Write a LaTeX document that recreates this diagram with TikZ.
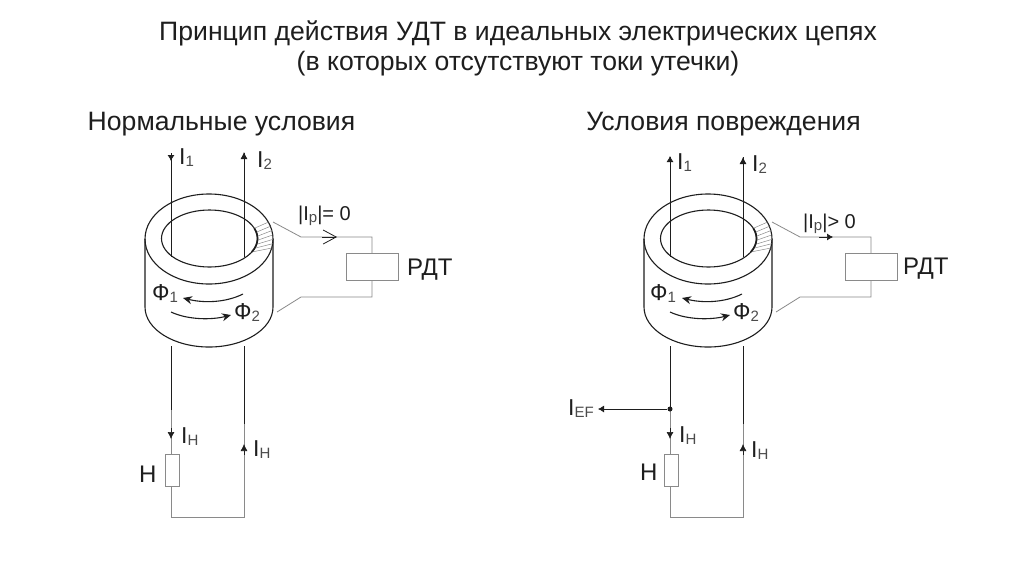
\documentclass[tikz,border=0pt]{standalone}
\usepackage{fontspec}
\setmainfont{Liberation Sans}
\usetikzlibrary{arrows.meta}
\definecolor{ink}{HTML}{1E1E1E}
\definecolor{thin}{HTML}{8A8A8A}
\newcommand{\fs}[1]{\fontsize{#1}{#1}\selectfont}
\newcommand{\sbs}[1]{\raisebox{-2.5pt}{\fs{15}\color{ink!80}#1}}
\newcommand{\wirepanel}[2]{%
  \coordinate (#1c) at (209,239);
  \coordinate (#1w1t) at (171,#2);
  \coordinate (#1w1m) at (171,257);
  \coordinate (#1w2t) at (244,#2);
  \coordinate (#1w2m) at (244,257);
  \draw[body] (145,239) -- (145,307) arc[start angle=180,end angle=0,x radius=64,y radius=40] -- (273,239);
  \draw[body] (#1c) ellipse[x radius=64,y radius=45];
  \draw[body] (209.5,238.5) ellipse[x radius=48,y radius=28.5];
  \foreach \i in {0,...,6} {
    \pgfmathsetmacro{\ti}{21-8.2*\i}
    \pgfmathsetmacro{\to}{22-5.6*\i}
    \draw[thinl,line width=.5pt] ({209.5+48*cos(\ti)},{238.5-28.5*sin(\ti)}) -- ({209+64*cos(\to)},{239-45*sin(\to)});
  }
  \draw[ink,line width=1.7pt] ({209.5+48*cos(-28)},{238.5-28.5*sin(-28)}) arc[start angle=-28,end angle=21,x radius=48,y radius=-28.5];
  \draw[wire] (#1w1t) -- (#1w1m);
  \draw[wire] (#1w2t) -- (#1w2m);
  \coordinate (#1w1b) at (171,346);
  \coordinate (#1w1k) at (171,410);
  \coordinate (#1w2b) at (244,346);
  \coordinate (#1w2k) at (244,424);
  \coordinate (#1bl) at (171,517);
  \coordinate (#1br) at (244,517);
  \node[box,minimum width=14pt,minimum height=32pt] (#1load) at (172,470) {};
  \draw[wire] (#1w1b) -- (#1w1k);
  \draw[wire] (#1w2b) -- (#1w2k);
  \draw[thinl] (#1w1k) -- (#1load.north -| #1w1k);
  \draw[thinl] (#1load.south -| #1w1k) -- (#1bl) -- (#1br) -- (#1w2k);
  \draw[-{Latex[length=7pt,width=7pt]},ink,line width=.7pt] (171,428) -- (171,439);
  \draw[-{Latex[length=7pt,width=7pt]},ink,line width=.7pt] (244,455) -- (244,444);
  \coordinate (#1a) at (273,222);
  \coordinate (#1b) at (301,237);
  \coordinate (#1d) at (372,237);
  \coordinate (#1e) at (372,297);
  \coordinate (#1f) at (301,297);
  \coordinate (#1g) at (277,312);
  \node[box,minimum width=52pt,minimum height=27pt] (#1rel) at (372,266.5) {};
  \draw[thinl] (#1a) -- (#1b) -- (#1d) -- (#1rel.north);
  \draw[thinl] (#1rel.south) -- (#1e) -- (#1f) -- (#1g);
  \draw[-{Stealth[length=9pt,width=8pt]},ink,line width=1.1pt] (243,294) .. controls (225,303) and (203,303) .. (183,298);
  \draw[-{Stealth[length=9pt,width=8pt]},ink,line width=1.1pt] (171,312) .. controls (188,320) and (212,320) .. (231,315);
}
\tikzset{
  body/.style={draw=ink,fill=none,line width=1.1pt},
  wire/.style={draw=ink,line width=.95pt},
  thinl/.style={draw=thin,line width=.8pt},
  box/.style={draw=thin,fill=white,line width=.8pt,inner sep=0pt,outer sep=0pt},
  lab/.style={anchor=base west,inner sep=0pt,text=ink,font=\fs{23}},
  ttl/.style={anchor=base,inner sep=0pt,text=ink,font=\fs{26.6}},
}
\begin{document}
\begin{tikzpicture}[x=1pt,y=-1pt]
\useasboundingbox[fill=white] (0,0) rectangle (1024,576);
\node[ttl] (t1) at (518,40) {Принцип действия УДТ в идеальных электрических цепях};
\node[ttl] (t2) at (518,70) {(в которых отсутствуют токи утечки)};
\node[ttl] (hl) at (221.5,130) {Нормальные условия};
\node[ttl] (hr) at (723.5,130) {Условия повреждения};

\begin{scope}
\wirepanel{L}{153}
\draw[-{Straight Barb[length=13pt,width=14pt]},ink,line width=.8pt] (322,237) -- (337,237);
\draw[-{Latex[length=6pt,width=7pt]},ink,line width=.8pt] (171,153) -- (171,161);
\draw[-{Latex[length=7pt,width=7pt]},ink,line width=.8pt] (244,162) -- (244,152);
\end{scope}
\node[lab] (li1) at (179,164) {I\sbs{1}};
\node[lab] (li2) at (257,167) {I\sbs{2}};
\node[lab,font=\fs{20}] (lip) at (298,220) {|I\sbs{р}|= 0};
\node[lab,font=\fs{24}] (lrd) at (407,275) {РДТ};
\node[lab] (lf1) at (152,300) {Ф\sbs{1}};
\node[lab] (lf2) at (234,319) {Ф\sbs{2}};
\node[lab] (lih) at (181,443) {I\sbs{Н}};
\node[lab] (lih2) at (253,456) {I\sbs{Н}};
\node[lab,font=\fs{24}] (ln) at (139,482) {Н};

\begin{scope}[xshift=499pt]
\wirepanel{R}{157}
\draw[-{Latex[length=6pt,width=7pt]},ink,line width=.7pt] (320,237) -- (334,237);
\draw[-{Latex[length=6pt,width=7pt]},ink,line width=.8pt] (171,165) -- (171,156);
\draw[-{Latex[length=7pt,width=7pt]},ink,line width=.8pt] (244,166) -- (244,157);
\node[circle,fill=ink,inner sep=0pt,minimum size=5pt] (Rj) at (171,409) {};
\coordinate (Rie) at (99,409);
\draw[thinl,-{Latex[length=6pt,width=7pt]},ink] (Rj) -- (Rie);
\end{scope}
\node[lab] (ri1) at (677,169) {I\sbs{1}};
\node[lab] (ri2) at (752,171) {I\sbs{2}};
\node[lab,font=\fs{20}] (rip) at (803,228) {|I\sbs{р}|> 0};
\node[lab,font=\fs{24}] (rrd) at (903,274) {РДТ};
\node[lab] (rf1) at (650,300) {Ф\sbs{1}};
\node[lab] (rf2) at (733,319) {Ф\sbs{2}};
\node[lab] (rih) at (679,442) {I\sbs{Н}};
\node[lab] (rih2) at (751,457) {I\sbs{Н}};
\node[lab,font=\fs{24}] (rn) at (640,480) {Н};
\node[lab] (rie) at (568,415) {I\sbs{EF}};
\end{tikzpicture}
\end{document}
